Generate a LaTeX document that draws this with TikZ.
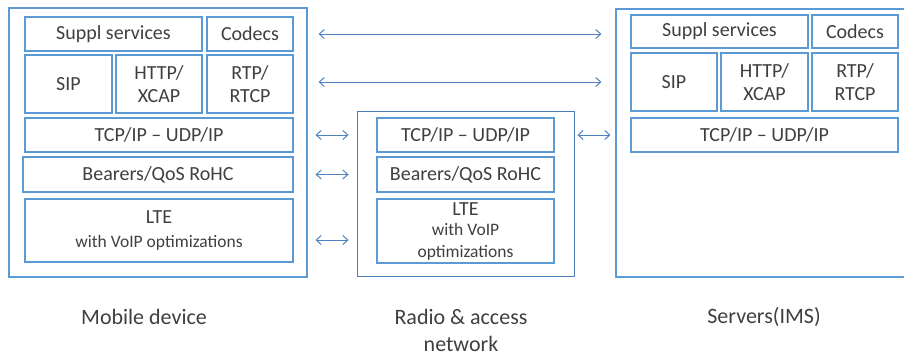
\documentclass[tikz,border=0pt]{standalone}
\usepackage{fontspec}
\setmainfont{Carlito}
\usetikzlibrary{arrows.meta}
\definecolor{layerblue}{HTML}{5B9BD5}
\definecolor{frameblue}{HTML}{4A7EBB}
\definecolor{linkblue}{HTML}{4F81BD}
\definecolor{txtgrey}{HTML}{3F3F3F}
\newcommand{\voipsize}{\fontsize{17.5}{20}\selectfont}

\begin{document}
\begin{tikzpicture}[x=1pt, y=-1pt]
  \tikzstyle{layer} = [rectangle, draw=layerblue, line width=1.1pt, text=txtgrey, align=center, inner sep=0pt, font=\fontsize{20}{23.5}\selectfont]
  \tikzstyle{frame} = [rectangle, draw=layerblue, line width=1.1pt, inner sep=0pt]
  \tikzstyle{caption} = [text=txtgrey, align=center, font=\fontsize{22}{27}\selectfont]
  \tikzstyle{link} = [draw=linkblue, line width=1pt, {Straight Barb[length=5pt,width=9pt]}-{Straight Barb[length=5pt,width=9pt]}]

  \clip (0,0) rectangle (904,356);

  % Frames
  \node [frame, minimum width=298, minimum height=269] (mob) at (158,142.5) {};
  \node [frame, draw=frameblue, line width=0.9pt, minimum width=217, minimum height=165] (ran) at (465.5,193.5) {};
  \node [frame, minimum width=290, minimum height=268] (srv) at (761,143) {};

  % Mobile device stack
  \node [layer, minimum width=177, minimum height=34] (mobsuppl) at (113.5,34) {Suppl services};
  \node [layer, minimum width=86, minimum height=34] (mobcodec) at (250,34) {Codecs};
  \node [layer, minimum width=87, minimum height=58] (mobsip) at (68.5,84) {SIP};
  \node [layer, minimum width=86, minimum height=58] (mobhttp) at (159,84) {HTTP/\\XCAP};
  \node [layer, minimum width=86, minimum height=58] (mobrtp) at (250,84) {RTP/\\RTCP};
  \node [layer, minimum width=268, minimum height=34] (mobtcp) at (159,135) {TCP/IP -- UDP/IP};
  \node [layer, minimum width=270, minimum height=35] (mobbear) at (158,174.5) {Bearers/QoS RoHC};
  \node [layer, minimum width=268, minimum height=63] (moblte) at (159,230.5) {LTE\\\voipsize with VoIP optimizations};

  % Radio & access network stack
  \node [layer, minimum width=177, minimum height=34] (rantcp) at (465.5,135) {TCP/IP -- UDP/IP};
  \node [layer, minimum width=177, minimum height=35] (ranbear) at (465.5,174.5) {Bearers/QoS RoHC};
  \node [layer, minimum width=177, minimum height=64] (ranlte) at (465.5,231) {LTE\\[-3pt]\voipsize with VoIP\\[-2pt]\voipsize optimizations};

  % Servers stack
  \node [layer, minimum width=177, minimum height=33] (srvsuppl) at (719.5,31.5) {Suppl services};
  \node [layer, minimum width=86, minimum height=33] (srvcodec) at (855,31.5) {Codecs};
  \node [layer, minimum width=86, minimum height=58] (srvsip) at (674,82) {SIP};
  \node [layer, minimum width=87, minimum height=58] (srvhttp) at (764.5,82) {HTTP/\\XCAP};
  \node [layer, minimum width=86, minimum height=58] (srvrtp) at (855,82) {RTP/\\RTCP};
  \node [layer, minimum width=267, minimum height=34] (srvtcp) at (764.5,135) {TCP/IP -- UDP/IP};

  % Captions
  \node [caption] (capmob) at (144,317) {Mobile device};
  \node [caption] (capran) at (461,330) {Radio \& access\\network};
  \node [caption] (capsrv) at (764,317) {Servers(IMS)};

  % Arrows
  \draw [link, shorten <=11pt, shorten >=14pt] (mob.east |- mobsuppl) -- (srv.west |- mobsuppl);
  \draw [link, shorten <=11pt, shorten >=14pt] (mob.east |- srvsip) -- (srv.west |- srvsip);
  \draw [link, shorten <=8pt, shorten >=8pt] (mob.east |- rantcp) -- (rantcp -| ran.west);
  \draw [link, shorten <=8pt, shorten >=8pt] (mob.east |- ranbear) -- (ranbear -| ran.west);
  \draw [link, shorten <=8pt, shorten >=8pt] ([yshift=-9pt]mob.east |- ranlte) -- ([yshift=-9pt]ranlte -| ran.west);
  \draw [link, shorten <=3pt, shorten >=5pt] (rantcp -| ran.east) -- (srv.west |- rantcp);

\end{tikzpicture}
\end{document}
